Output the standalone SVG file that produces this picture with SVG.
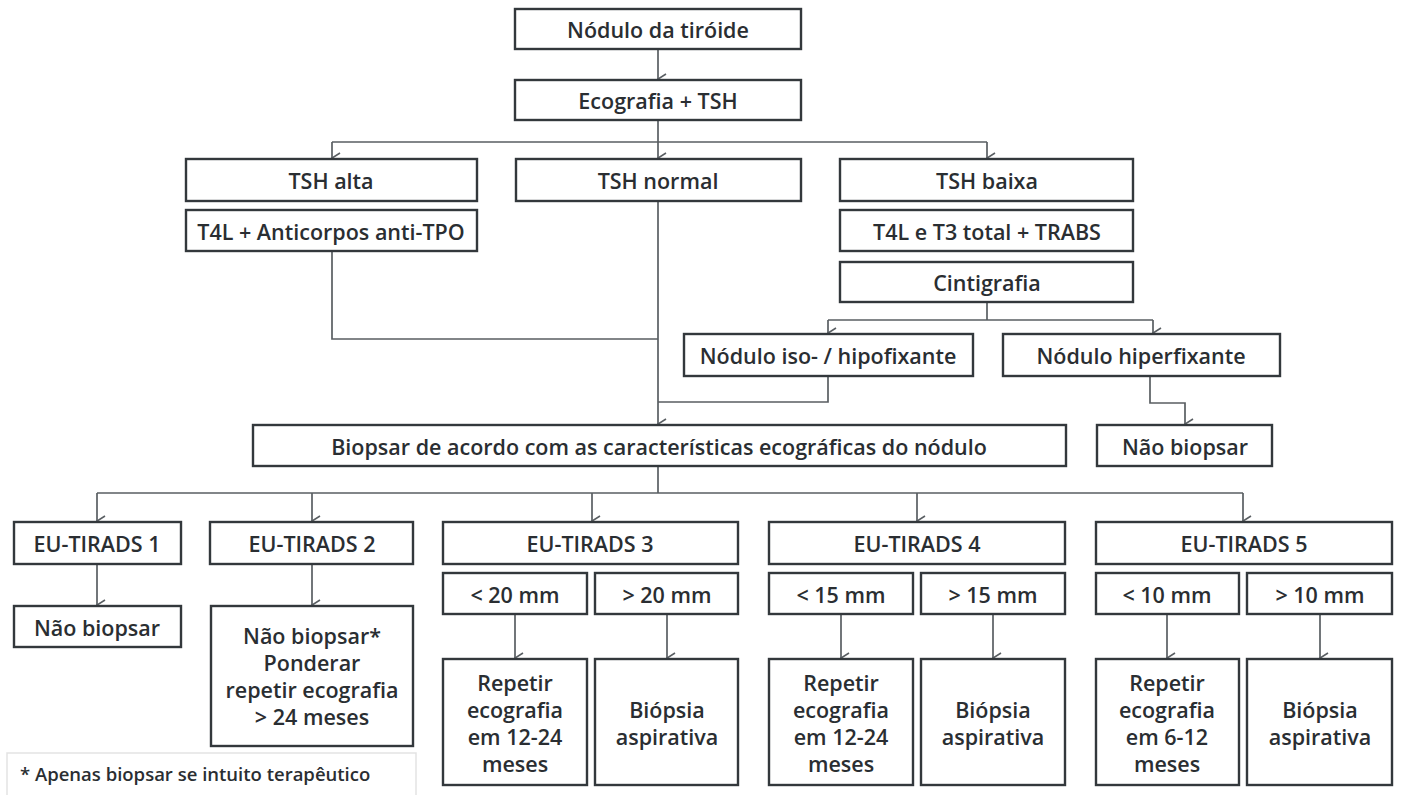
<svg xmlns="http://www.w3.org/2000/svg" width="1402" height="795" viewBox="0 0 1402 795">
  <style>
    .box { fill: #ffffff; stroke: #33383c; stroke-width: 2.4; }
    .lbl { font-family: "Open Sans", "Liberation Sans", sans-serif; font-size: 21.5px; font-weight: 600; fill: #2a2e32; text-anchor: middle; dominant-baseline: central; }
    .conn { fill: none; stroke: #595e62; stroke-width: 1.7; }
    .note { fill: #ffffff; stroke: #e3e3e3; stroke-width: 1.5; }
    .small { font-family: "Open Sans", "Liberation Sans", sans-serif; font-size: 18.5px; font-weight: 600; fill: #2a2e32; dominant-baseline: central; }
  </style>
  <defs>
    <marker id="arr" markerUnits="userSpaceOnUse" markerWidth="12" markerHeight="10" viewBox="0 0 12 10" refX="6" refY="9" orient="auto-start-reverse">
      <path d="M1,1 L6,9 L11,1" fill="none" stroke="#595e62" stroke-width="1.6"/>
    </marker>
  </defs>
  <rect width="1402" height="795" fill="#ffffff"/>

  <!-- connectors -->
  <g id="connectors" class="conn">
    <path d="M658,50 V79" marker-end="url(#arr)"/>
    <path d="M658,121 V158" marker-end="url(#arr)"/>
    <path d="M332,142 H987"/>
    <path d="M332,142 V158" marker-end="url(#arr)"/>
    <path d="M987,142 V158" marker-end="url(#arr)"/>
    <path d="M332,252 V339 H658"/>
    <path d="M658,202 V424" marker-end="url(#arr)"/>
    <path d="M987,303 V320"/>
    <path d="M828,320 H1153"/>
    <path d="M828,320 V333" marker-end="url(#arr)"/>
    <path d="M1153,320 V333" marker-end="url(#arr)"/>
    <path d="M828,377 V402 H658"/>
    <path d="M1150,377 V403 H1185 V424" marker-end="url(#arr)"/>
    <path d="M658,467 V493"/>
    <path d="M97,493 H1243"/>
    <path d="M97,493 V521" marker-end="url(#arr)"/>
    <path d="M312,493 V521" marker-end="url(#arr)"/>
    <path d="M592,493 V521" marker-end="url(#arr)"/>
    <path d="M917,493 V521" marker-end="url(#arr)"/>
    <path d="M1243,493 V521" marker-end="url(#arr)"/>
    <path d="M97,565 V605" marker-end="url(#arr)"/>
    <path d="M312,565 V605" marker-end="url(#arr)"/>
    <path d="M515,615 V658" marker-end="url(#arr)"/>
    <path d="M667,615 V658" marker-end="url(#arr)"/>
    <path d="M841,615 V658" marker-end="url(#arr)"/>
    <path d="M993,615 V658" marker-end="url(#arr)"/>
    <path d="M1167,615 V658" marker-end="url(#arr)"/>
    <path d="M1320,615 V658" marker-end="url(#arr)"/>
  </g>

  <!-- nodes -->
  <g id="n-nodulo"><rect class="box" x="515" y="9" width="286" height="40"/><text class="lbl" x="658" y="29">Nódulo da tiróide</text></g>
  <g id="n-ecografia"><rect class="box" x="515" y="80" width="286" height="40"/><text class="lbl" x="658" y="100">Ecografia + TSH</text></g>
  <g id="n-tsh-alta"><rect class="box" x="186" y="159" width="291" height="42"/><text class="lbl" x="331" y="180">TSH alta</text></g>
  <g id="n-tsh-normal"><rect class="box" x="516" y="159" width="285" height="42"/><text class="lbl" x="658" y="180">TSH normal</text></g>
  <g id="n-tsh-baixa"><rect class="box" x="840" y="159" width="293" height="42"/><text class="lbl" x="987" y="180">TSH baixa</text></g>
  <g id="n-t4l-tpo"><rect class="box" x="186" y="210" width="291" height="41"/><text class="lbl" x="331" y="231">T4L + Anticorpos anti-TPO</text></g>
  <g id="n-t4l-t3"><rect class="box" x="840" y="210" width="293" height="41"/><text class="lbl" x="987" y="231">T4L e T3 total + TRABS</text></g>
  <g id="n-cintigrafia"><rect class="box" x="840" y="262" width="293" height="40"/><text class="lbl" x="987" y="282">Cintigrafia</text></g>
  <g id="n-iso"><rect class="box" x="684" y="334" width="289" height="42"/><text class="lbl" x="828" y="355">Nódulo iso- / hipofixante</text></g>
  <g id="n-hiper"><rect class="box" x="1003" y="334" width="277" height="42"/><text class="lbl" x="1141" y="355">Nódulo hiperfixante</text></g>
  <g id="n-biopsar"><rect class="box" x="253" y="425" width="813" height="41"/><text class="lbl" x="659" y="446">Biopsar de acordo com as características ecográficas do nódulo</text></g>
  <g id="n-nao-biopsar-hiper"><rect class="box" x="1097" y="425" width="175" height="41"/><text class="lbl" x="1185" y="446">Não biopsar</text></g>

  <g id="n-tirads1"><rect class="box" x="14" y="522" width="167" height="42"/><text class="lbl" x="97" y="543">EU-TIRADS 1</text></g>
  <g id="n-tirads2"><rect class="box" x="210" y="522" width="203" height="42"/><text class="lbl" x="312" y="543">EU-TIRADS 2</text></g>
  <g id="n-tirads3"><rect class="box" x="443" y="522" width="295" height="42"/><text class="lbl" x="590" y="543">EU-TIRADS 3</text></g>
  <g id="n-tirads4"><rect class="box" x="769" y="522" width="296" height="42"/><text class="lbl" x="917" y="543">EU-TIRADS 4</text></g>
  <g id="n-tirads5"><rect class="box" x="1096" y="522" width="296" height="42"/><text class="lbl" x="1244" y="543">EU-TIRADS 5</text></g>

  <g id="n-t1-nao"><rect class="box" x="14" y="606" width="167" height="41"/><text class="lbl" x="97" y="627">Não biopsar</text></g>
  <g id="n-t2-nao">
    <rect class="box" x="211" y="606" width="202" height="140"/>
    <text class="lbl" x="312"><tspan x="312" y="635">Não biopsar*</tspan><tspan x="312" y="662">Ponderar</tspan><tspan x="312" y="689">repetir ecografia</tspan><tspan x="312" y="716">&gt; 24 meses</tspan></text>
  </g>

  <g id="n-t3-lt"><rect class="box" x="443" y="573" width="144" height="41"/><text class="lbl" x="515" y="594">&lt; 20 mm</text></g>
  <g id="n-t3-gt"><rect class="box" x="595" y="573" width="143" height="41"/><text class="lbl" x="667" y="594">&gt; 20 mm</text></g>
  <g id="n-t4-lt"><rect class="box" x="769" y="573" width="144" height="41"/><text class="lbl" x="841" y="594">&lt; 15 mm</text></g>
  <g id="n-t4-gt"><rect class="box" x="921" y="573" width="144" height="41"/><text class="lbl" x="993" y="594">&gt; 15 mm</text></g>
  <g id="n-t5-lt"><rect class="box" x="1096" y="573" width="143" height="41"/><text class="lbl" x="1167" y="594">&lt; 10 mm</text></g>
  <g id="n-t5-gt"><rect class="box" x="1247" y="573" width="145" height="41"/><text class="lbl" x="1320" y="594">&gt; 10 mm</text></g>

  <g id="n-t3-rep">
    <rect class="box" x="443" y="659" width="144" height="126"/>
    <text class="lbl"><tspan x="515" y="682">Repetir</tspan><tspan x="515" y="709">ecografia</tspan><tspan x="515" y="736">em 12-24</tspan><tspan x="515" y="763">meses</tspan></text>
  </g>
  <g id="n-t3-bio">
    <rect class="box" x="595" y="659" width="143" height="126"/>
    <text class="lbl"><tspan x="667" y="709">Biópsia</tspan><tspan x="667" y="736">aspirativa</tspan></text>
  </g>
  <g id="n-t4-rep">
    <rect class="box" x="769" y="659" width="144" height="126"/>
    <text class="lbl"><tspan x="841" y="682">Repetir</tspan><tspan x="841" y="709">ecografia</tspan><tspan x="841" y="736">em 12-24</tspan><tspan x="841" y="763">meses</tspan></text>
  </g>
  <g id="n-t4-bio">
    <rect class="box" x="921" y="659" width="144" height="126"/>
    <text class="lbl"><tspan x="993" y="709">Biópsia</tspan><tspan x="993" y="736">aspirativa</tspan></text>
  </g>
  <g id="n-t5-rep">
    <rect class="box" x="1096" y="659" width="143" height="126"/>
    <text class="lbl"><tspan x="1167" y="682">Repetir</tspan><tspan x="1167" y="709">ecografia</tspan><tspan x="1167" y="736">em 6-12</tspan><tspan x="1167" y="763">meses</tspan></text>
  </g>
  <g id="n-t5-bio">
    <rect class="box" x="1247" y="659" width="145" height="126"/>
    <text class="lbl"><tspan x="1320" y="709">Biópsia</tspan><tspan x="1320" y="736">aspirativa</tspan></text>
  </g>

  <!-- footnote -->
  <g id="n-footnote">
    <rect class="note" x="7" y="753" width="409" height="44"/>
    <text class="small" x="20" y="773">* Apenas biopsar se intuito terapêutico</text>
  </g>
</svg>
